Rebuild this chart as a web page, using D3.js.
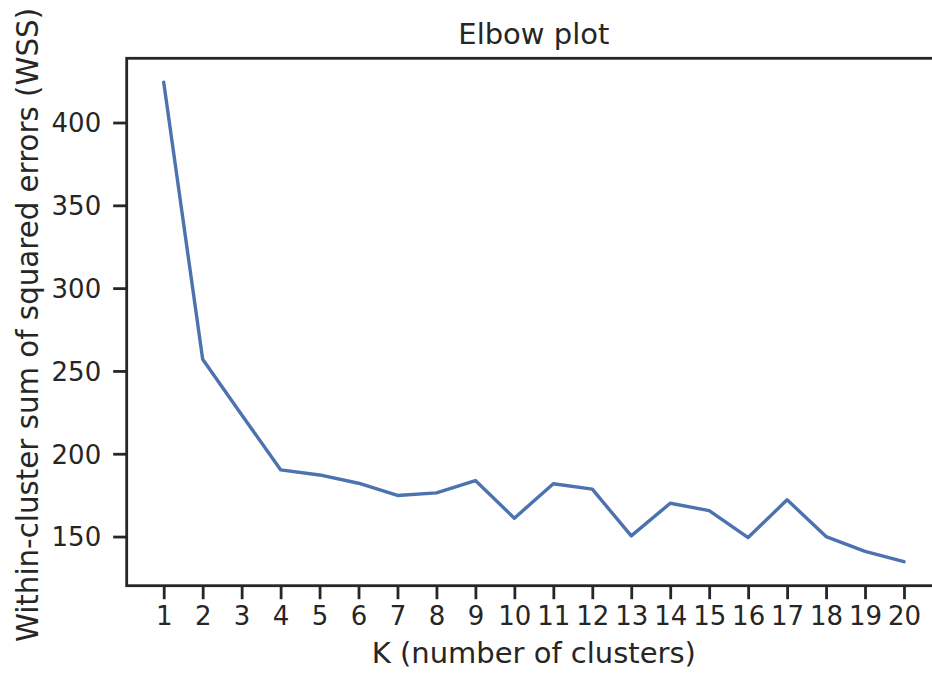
<!DOCTYPE html>
<html>
<head>
<meta charset="utf-8">
<script src="https://cdn.jsdelivr.net/npm/d3@7"></script>
<style>
  html, body { margin: 0; padding: 0; background: #fff; }
  svg { display: block; }
  text { font-family: "DejaVu Sans", sans-serif; fill: #262626; }
</style>
</head>
<body>
<svg id="chart" width="932" height="674"></svg>
<script>
const kValues = [1,2,3,4,5,6,7,8,9,10,11,12,13,14,15,16,17,18,19,20];
const wssValues = [424.3, 257.0, 223.6, 190.3, 187.2, 182.2, 174.8, 176.4, 183.8, 161.1,
                   181.9, 178.6, 150.4, 170.1, 165.7, 149.4, 172.2, 150.0, 141.0, 134.8];
const yTicks = [150, 200, 250, 300, 350, 400];
const titleText = "Elbow plot";
const xLabelText = "K (number of clusters)";
const yLabelText = "Within-cluster sum of squared errors (WSS)";

(function () {
const data = kValues.map((k, i) => ({k, v: wssValues[i]}));

const svg = d3.select("#chart");
const mLeft = 126.7, mRight = 941, mTop = 58.3, mBottom = 585.7;
const ink = "#262626";

function pad(ext) { const r = ext[1] - ext[0]; return [ext[0] - r * 0.05, ext[1] + r * 0.05]; }

const x = d3.scaleLinear().domain(pad(d3.extent(kValues))).range([mLeft, mRight]);
const y = d3.scaleLinear().domain(pad(d3.extent(wssValues))).range([mBottom, mTop]);

// line
svg.append("path")
  .datum(data)
  .attr("fill", "none")
  .attr("stroke", "#4c72b0")
  .attr("stroke-width", 3.4)
  .attr("stroke-linejoin", "round")
  .attr("stroke-linecap", "round")
  .attr("d", d3.line().x(d => x(d.k)).y(d => y(d.v)));

// axes
const xAxis = svg.append("g")
  .attr("transform", `translate(0,${mBottom})`)
  .call(d3.axisBottom(x).tickValues(kValues).tickFormat(d3.format("d")).tickSize(13.5).tickPadding(7).tickSizeOuter(0));
const yAxis = svg.append("g")
  .attr("transform", `translate(${mLeft},0)`)
  .call(d3.axisLeft(y).tickValues(yTicks).tickSize(13.5).tickPadding(12).tickSizeOuter(0));

[xAxis, yAxis].forEach(g => {
  g.attr("font-size", null).attr("font-family", null);
  g.select(".domain").remove();
  g.selectAll(".tick line").attr("stroke", ink).attr("stroke-width", 2.8);
  g.selectAll(".tick text").attr("fill", ink)
    .attr("font-size", 26).style("font-size", "26px")
    .style("font-family", "DejaVu Sans, sans-serif");
});
xAxis.selectAll(".tick text").attr("dy", "0.71em");
yAxis.selectAll(".tick text").attr("dy", "0.36em");

// frame
svg.append("rect")
  .attr("x", mLeft).attr("y", mTop)
  .attr("width", mRight - mLeft).attr("height", mBottom - mTop)
  .attr("fill", "none").attr("stroke", ink).attr("stroke-width", 2.8);

// title
svg.append("text")
  .attr("x", (mLeft + mRight) / 2).attr("y", 43.5)
  .attr("text-anchor", "middle")
  .style("font-size", "29px")
  .text(titleText);

// x label
svg.append("text")
  .attr("x", (mLeft + mRight) / 2).attr("y", 663)
  .attr("text-anchor", "middle")
  .style("font-size", "29px")
  .text(xLabelText);

// y label
svg.append("text")
  .attr("transform", `translate(37.5,${(mTop + mBottom) / 2 + 3}) rotate(-90)`)
  .attr("text-anchor", "middle")
  .style("font-size", "29.3px")
  .text(yLabelText);
})();
</script>
</body>
</html>
